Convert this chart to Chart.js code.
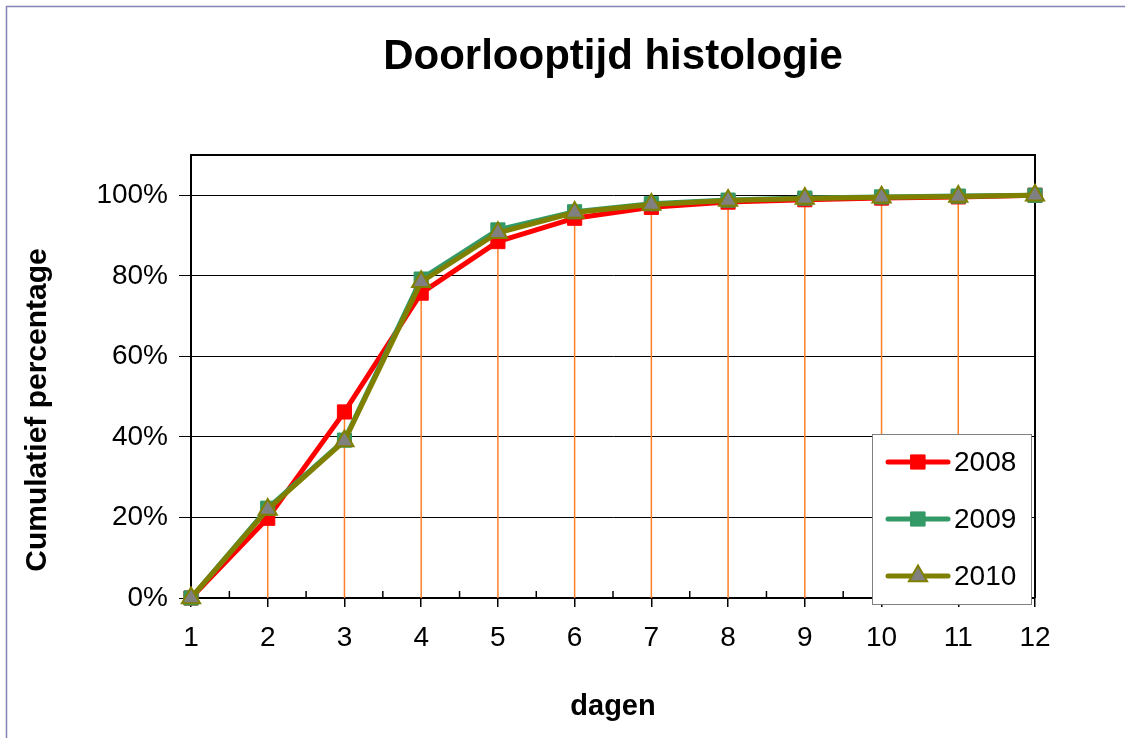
<!DOCTYPE html>
<html>
<head>
<meta charset="utf-8">
<script src="https://cdn.jsdelivr.net/npm/chart.js@4.4.1/dist/chart.umd.min.js"></script>
<style>
  html, body { margin: 0; padding: 0; background: #fff; }
  #wrap { width: 1125px; height: 738px; position: relative; }
</style>
</head>
<body>
<div id="wrap"><canvas id="myChart" width="1125" height="738"></canvas></div>
<script>
// data
const dagen = ['1', '2', '3', '4', '5', '6', '7', '8', '9', '10', '11', '12'];
const jaren = ['2008', '2009', '2010'];
const pct2008 = [0, 19.8, 46.2, 75.7, 88.5, 94.3, 97.0, 98.3, 98.9, 99.3, 99.6, 100];
const pct2009 = [0, 22.3, 39.2, 79.2, 91.4, 95.9, 97.9, 98.8, 99.3, 99.6, 99.8, 100];
const pct2010 = [0, 22.0, 39.0, 78.5, 90.7, 95.7, 97.7, 98.7, 99.2, 99.5, 99.7, 100];
const yTicks = [0, 20, 40, 60, 80, 100];

Chart.defaults.font.family = 'Arial, "Liberation Sans", sans-serif';
Chart.defaults.color = '#000';

// outer frame, plot border, minor ticks, drop lines
const frame = {
  id: 'frame',
  beforeDatasetsDraw(chart) {
    const {ctx, chartArea: a, scales: {x}} = chart;
    ctx.save();
    // drop lines from the highest point down to the axis
    ctx.strokeStyle = '#ff7f27';
    ctx.lineWidth = 1.5;
    dagen.forEach((d, i) => {
      const top = Math.max(...chart.data.datasets.map(ds => ds.data[i]));
      const px = x.getPixelForValue(i);
      ctx.beginPath();
      ctx.moveTo(px, chart.scales.y.getPixelForValue(top));
      ctx.lineTo(px, a.bottom);
      ctx.stroke();
    });
    // top and right border of the plot
    ctx.strokeStyle = '#000';
    ctx.lineWidth = 2;
    ctx.beginPath();
    ctx.moveTo(a.left, a.top);
    ctx.lineTo(a.right, a.top);
    ctx.lineTo(a.right, a.bottom);
    ctx.stroke();
    // minor ticks between the days, pointing inward
    ctx.lineWidth = 1.5;
    for (let i = 0; i < dagen.length - 1; i++) {
      const mx = (x.getPixelForValue(i) + x.getPixelForValue(i + 1)) / 2;
      ctx.beginPath();
      ctx.moveTo(mx, a.bottom);
      ctx.lineTo(mx, a.bottom - 7);
      ctx.stroke();
    }
    ctx.restore();
  },
  afterDraw(chart) {
    const {ctx, chartArea: a} = chart;
    ctx.save();
    // y axis title
    ctx.translate(38, 410);
    ctx.rotate(-Math.PI / 2);
    ctx.font = 'bold 30px Arial, "Liberation Sans", sans-serif';
    ctx.fillStyle = '#000';
    ctx.textAlign = 'center';
    ctx.textBaseline = 'middle';
    ctx.fillText('Cumulatief percentage', 0, 0);
    ctx.restore();

    // legend box inside the plot, bottom right
    ctx.save();
    const bx = a.right - 163, by = a.bottom - 164, bw = 159, bh = 170;
    ctx.fillStyle = '#fff';
    ctx.fillRect(bx, by, bw, bh);
    ctx.strokeStyle = '#808080';
    ctx.lineWidth = 1;
    ctx.strokeRect(bx + 0.5, by + 0.5, bw, bh);
    chart.data.datasets.forEach((ds, i) => {
      const ry = by + 28 + i * 57;
      ctx.strokeStyle = ds.borderColor;
      ctx.lineWidth = 5;
      ctx.lineCap = 'round';
      ctx.beginPath();
      ctx.moveTo(bx + 16, ry);
      ctx.lineTo(bx + 76, ry);
      ctx.stroke();
      ctx.fillStyle = ds.pointBackgroundColor;
      ctx.strokeStyle = ds.pointBorderColor;
      ctx.lineWidth = ds.pointBorderWidth;
      Chart.helpers.drawPoint(ctx, {
        pointStyle: ds.pointStyle, radius: ds.pointRadius,
        rotation: 0, borderWidth: ds.pointBorderWidth
      }, bx + 46, ry);
      ctx.fillStyle = '#000';
      ctx.font = '28px Arial, "Liberation Sans", sans-serif';
      ctx.textAlign = 'left';
      ctx.textBaseline = 'middle';
      ctx.fillText(ds.label, bx + 82, ry + 1);
    });
    ctx.restore();

    // outer chart frame
    ctx.save();
    ctx.strokeStyle = '#8585b5';
    ctx.lineWidth = 1.5;
    ctx.beginPath();
    ctx.moveTo(6.5, 738);
    ctx.lineTo(6.5, 6.5);
    ctx.lineTo(1125, 6.5);
    ctx.stroke();
    ctx.restore();
  }
};

const ctx = document.getElementById('myChart').getContext('2d');
new Chart(ctx, {
  type: 'line',
  data: {
    labels: dagen,
    datasets: [
      {
        label: jaren[0],
        data: pct2008,
        borderColor: '#ff0000',
        backgroundColor: '#ff0000',
        borderWidth: 5,
        pointStyle: 'rect',
        pointRadius: 10,
        pointBackgroundColor: '#ff0000',
        pointBorderColor: '#ff0000',
        pointBorderWidth: 1,
        tension: 0,
        clip: false,
        order: 3
      },
      {
        label: jaren[1],
        data: pct2009,
        borderColor: '#339966',
        backgroundColor: '#339966',
        borderWidth: 5,
        pointStyle: 'rect',
        pointRadius: 10,
        pointBackgroundColor: '#339966',
        pointBorderColor: '#339966',
        pointBorderWidth: 1,
        tension: 0,
        clip: false,
        order: 2
      },
      {
        label: jaren[2],
        data: pct2010,
        borderColor: '#808000',
        backgroundColor: '#808080',
        borderWidth: 5,
        pointStyle: 'triangle',
        pointRadius: 10.5,
        pointBackgroundColor: '#808080',
        pointBorderColor: '#808000',
        pointBorderWidth: 2,
        tension: 0,
        clip: false,
        order: 1
      }
    ]
  },
  options: {
    responsive: false,
    animation: false,
    layout: { padding: { left: 0, right: 90, top: 0, bottom: 0 } },
    plugins: {
      legend: { display: false },
      tooltip: { enabled: false },
      title: {
        display: true,
        text: 'Doorlooptijd histologie',
        fullSize: false,
        color: '#000',
        font: { size: 42, weight: 'bold' },
        padding: { top: 32, bottom: 72.6 }
      }
    },
    scales: {
      x: {
        type: 'category',
        offset: false,
        afterFit: s => { s.height = 140; },
        grid: { offset: false, drawOnChartArea: false, drawTicks: true, tickLength: 9, color: '#000', lineWidth: 1.5 },
        border: { color: '#000', width: 2 },
        ticks: { font: { size: 28 }, padding: 14, maxRotation: 0, autoSkip: false },
        title: {
          display: true,
          text: 'dagen',
          align: 'center',
          font: { size: 29, weight: 'bold' },
          padding: { top: 10, bottom: 14 }
        }
      },
      y: {
        min: 0,
        max: 110,
        afterFit: s => { s.width = 191; },
        afterBuildTicks: s => { s.ticks = yTicks.map(v => ({ value: v })); },
        grid: { color: '#000', lineWidth: 1, tickLength: 12, drawTicks: true },
        border: { color: '#000', width: 2 },
        ticks: { font: { size: 28 }, padding: 11, callback: v => v + '%' }
      }
    }
  },
  plugins: [frame]
});
</script>
</body>
</html>
